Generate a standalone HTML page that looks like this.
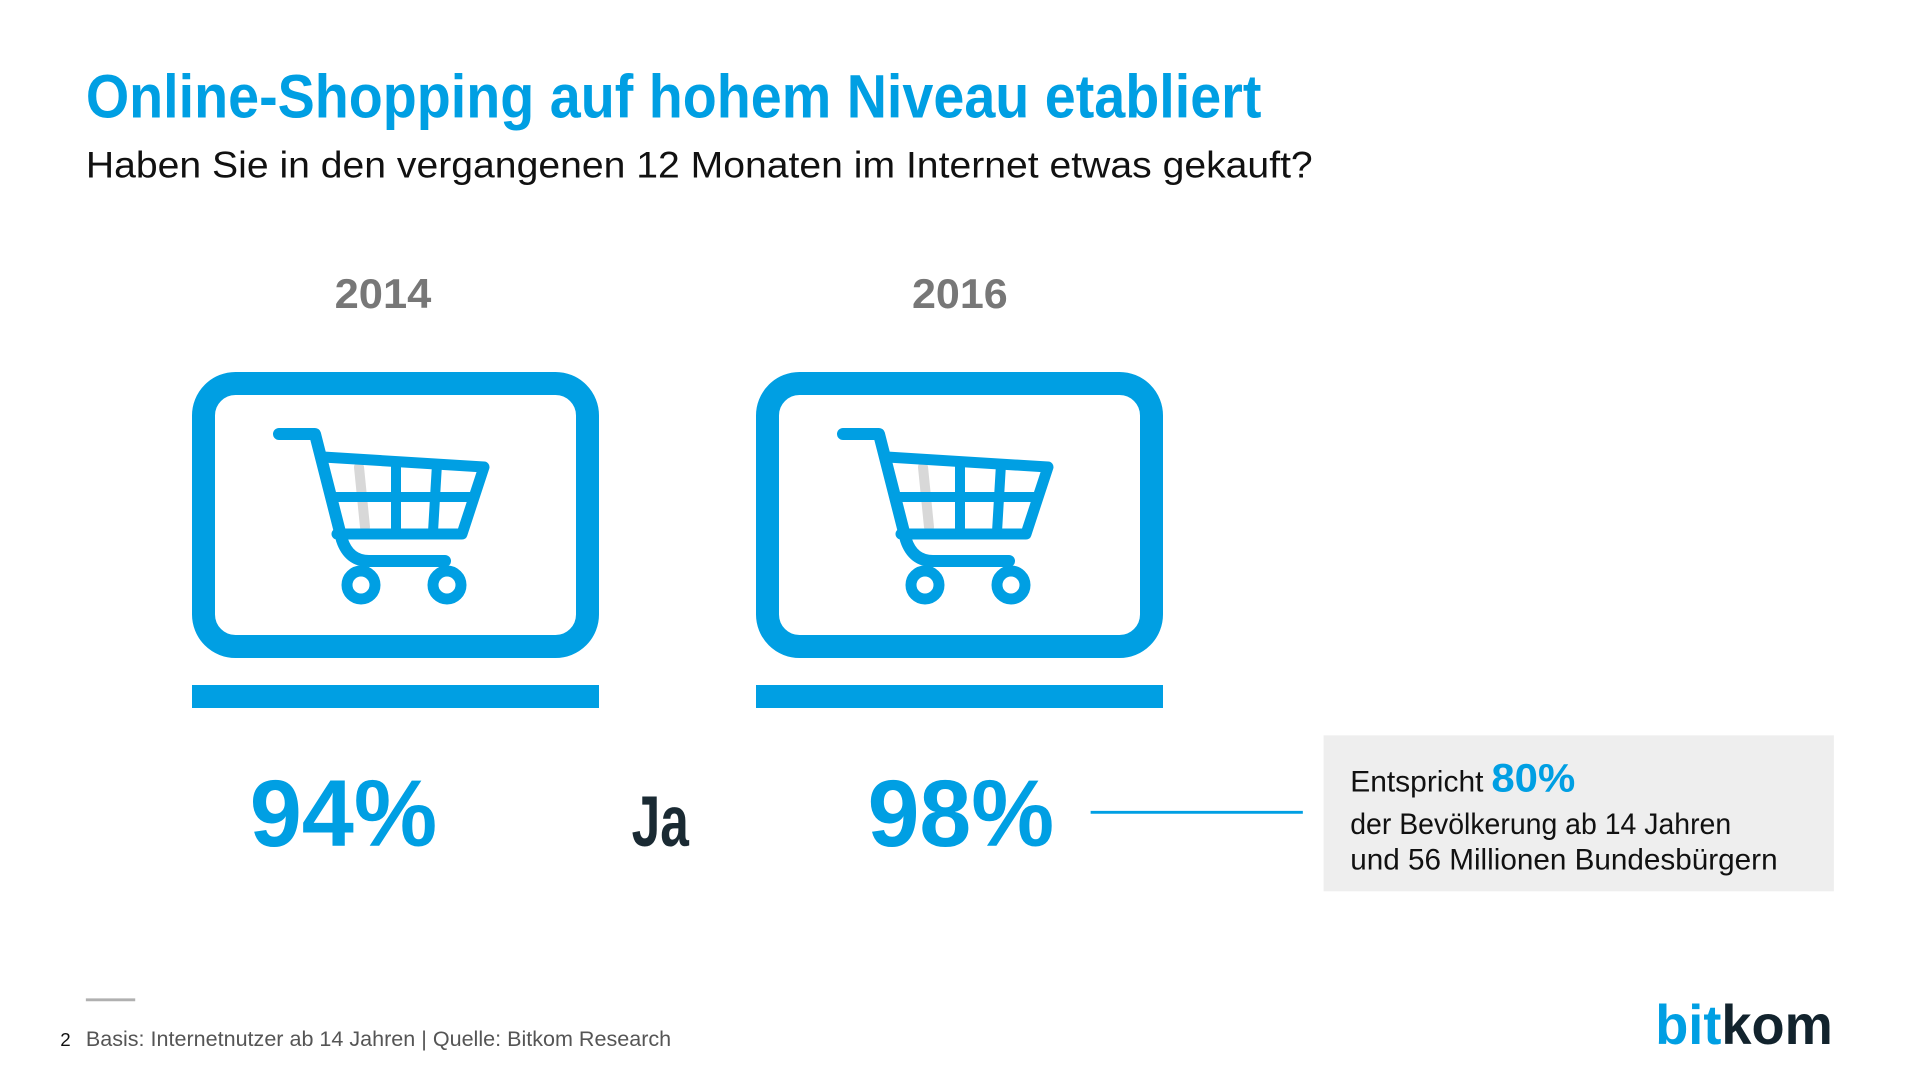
<!DOCTYPE html>
<html><head><meta charset="utf-8"><style>
html,body{margin:0;padding:0;background:#fff;width:1920px;height:1080px;overflow:hidden}
svg text{font-family:"Liberation Sans",sans-serif}
</style></head><body>
<svg width="1920" height="1080" viewBox="0 0 1920 1080" xmlns="http://www.w3.org/2000/svg">
<g transform="scale(0.987)">
<text x="87" y="119" font-size="62" font-weight="bold" fill="#009fe3" textLength="1191" lengthAdjust="spacingAndGlyphs">Online-Shopping auf hohem Niveau etabliert</text>
<text x="87" y="180" font-size="38" fill="#111" textLength="1243" lengthAdjust="spacingAndGlyphs">Haben Sie in den vergangenen 12 Monaten im Internet etwas gekauft?</text>

<text x="339" y="312" font-size="42" font-weight="bold" fill="#777" textLength="98" lengthAdjust="spacingAndGlyphs">2014</text>
<text x="924" y="312" font-size="42" font-weight="bold" fill="#777" textLength="97" lengthAdjust="spacingAndGlyphs">2016</text>

<text x="253" y="857" font-size="96" font-weight="bold" fill="#009fe3" textLength="190" lengthAdjust="spacingAndGlyphs">94%</text>
<text x="640" y="857" font-size="72" font-weight="bold" fill="#1a2a33" textLength="58" lengthAdjust="spacingAndGlyphs">Ja</text>
<text x="879" y="857" font-size="96" font-weight="bold" fill="#009fe3" textLength="189" lengthAdjust="spacingAndGlyphs">98%</text>

<line x1="1105" y1="823" x2="1320" y2="823" stroke="#009fe3" stroke-width="3"/>
<rect x="1341" y="745" width="517" height="158" fill="#eeeeee"/>
<text x="1368" y="802" font-size="30" fill="#111"><tspan textLength="135" lengthAdjust="spacingAndGlyphs">Entspricht</tspan><tspan dx="8" font-size="40" font-weight="bold" fill="#009fe3" textLength="85" lengthAdjust="spacingAndGlyphs">80%</tspan></text>
<text x="1368" y="845" font-size="30" fill="#111" textLength="386" lengthAdjust="spacingAndGlyphs">der Bevölkerung ab 14 Jahren</text>
<text x="1368" y="881" font-size="30" fill="#111" textLength="433" lengthAdjust="spacingAndGlyphs">und 56 Millionen Bundesbürgern</text>

<line x1="87" y1="1013" x2="137" y2="1013" stroke="#b0b0b0" stroke-width="3"/>
<text x="61" y="1060" font-size="19" fill="#111">2</text>
<text x="87" y="1060" font-size="22" fill="#555" textLength="593" lengthAdjust="spacingAndGlyphs">Basis: Internetnutzer ab 14 Jahren | Quelle: Bitkom Research</text>

<text x="1677" y="1058" font-family="Liberation Serif,serif" font-size="56" font-weight="bold" textLength="180" lengthAdjust="spacingAndGlyphs"><tspan fill="#009fe3">bit</tspan><tspan fill="#12232d">kom</tspan></text>
</g>

<g>
  <rect x="203.5" y="383.5" width="384" height="263" rx="32" fill="none" stroke="#009fe3" stroke-width="23"/>
  <rect x="192" y="685" width="407" height="23" fill="#009fe3"/>
  <g transform="translate(-3,-5)" fill="none" stroke-linecap="round" stroke-linejoin="round">
    <line x1="362" y1="472" x2="368" y2="532" stroke="#d8d8d8" stroke-width="10"/>
    <path d="M282,439 L318,439 L345,545 Q352,566 372,566 L448,566" stroke="#009fe3" stroke-width="12"/>
    <path d="M326,462 L487,472 L465,539 L340,539" stroke="#009fe3" stroke-width="11"/>
    <line x1="334" y1="502" x2="477" y2="502" stroke="#009fe3" stroke-width="10"/>
    <line x1="399" y1="467" x2="399" y2="537" stroke="#009fe3" stroke-width="10"/>
    <line x1="440" y1="469" x2="436" y2="537" stroke="#009fe3" stroke-width="10"/>
    <circle cx="364" cy="590" r="14" stroke="#009fe3" stroke-width="11"/>
    <circle cx="450" cy="590" r="14" stroke="#009fe3" stroke-width="11"/>
  </g>
</g>
<g transform="translate(564,0)">
  <rect x="203.5" y="383.5" width="384" height="263" rx="32" fill="none" stroke="#009fe3" stroke-width="23"/>
  <rect x="192" y="685" width="407" height="23" fill="#009fe3"/>
  <g transform="translate(-3,-5)" fill="none" stroke-linecap="round" stroke-linejoin="round">
    <line x1="362" y1="472" x2="368" y2="532" stroke="#d8d8d8" stroke-width="10"/>
    <path d="M282,439 L318,439 L345,545 Q352,566 372,566 L448,566" stroke="#009fe3" stroke-width="12"/>
    <path d="M326,462 L487,472 L465,539 L340,539" stroke="#009fe3" stroke-width="11"/>
    <line x1="334" y1="502" x2="477" y2="502" stroke="#009fe3" stroke-width="10"/>
    <line x1="399" y1="467" x2="399" y2="537" stroke="#009fe3" stroke-width="10"/>
    <line x1="440" y1="469" x2="436" y2="537" stroke="#009fe3" stroke-width="10"/>
    <circle cx="364" cy="590" r="14" stroke="#009fe3" stroke-width="11"/>
    <circle cx="450" cy="590" r="14" stroke="#009fe3" stroke-width="11"/>
  </g>
</g>
</svg>
</body></html>
